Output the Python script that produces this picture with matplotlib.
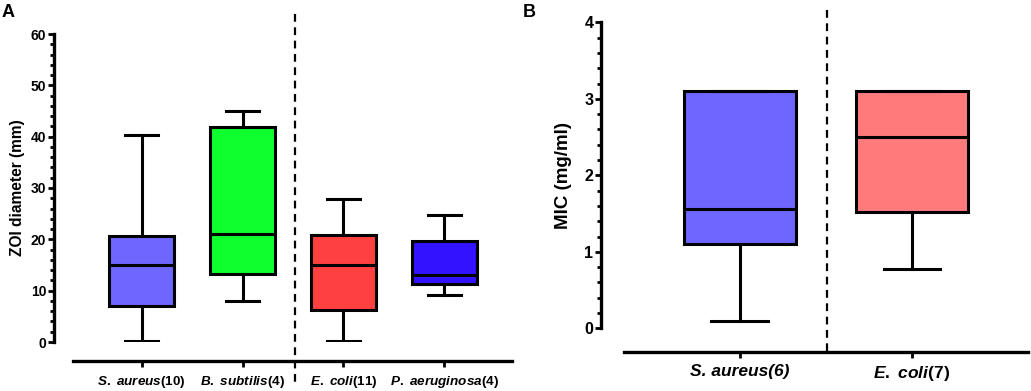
import matplotlib
matplotlib.use("Agg")
import matplotlib.pyplot as plt
from matplotlib.ticker import MultipleLocator

plt.rcParams['font.family'] = 'Liberation Sans'
plt.rcParams['font.weight'] = 'bold'
plt.rcParams['mathtext.fontset'] = 'custom'
plt.rcParams['mathtext.it'] = 'Liberation Sans:bold:italic'
plt.rcParams['mathtext.rm'] = 'Liberation Sans:bold'

# panel A: zone of inhibition (mm)
zoi_labels = [r"$\mathit{S.\ aureus}$(10)", r"$\mathit{B.\ subtilis}$(4)",
              r"$\mathit{E.\ coli}$(11)", r"$\mathit{P.\ aeruginosa}$(4)"]
zoi_min = [0.2, 8.0, 0.2, 9.1]
zoi_q1 = [7.0, 13.3, 6.3, 11.3]
zoi_med = [15.0, 21.0, 15.0, 13.0]
zoi_q3 = [20.7, 41.8, 20.8, 19.6]
zoi_max = [40.3, 45.0, 27.9, 24.7]
zoi_colors = ['#6E66FF', '#0DFF2E', '#FF4040', '#3212FF']

# panel B: MIC (mg/ml)
mic_labels = ["S. aureus(6)", r"$\mathit{E.\ coli}$(7)"]
mic_min = [0.1, 0.78]
mic_q1 = [1.10, 1.52]
mic_med = [1.56, 2.50]
mic_q3 = [3.10, 3.10]
mic_max = [3.10, 3.10]
mic_colors = ['#6E66FF', '#FF7A7A']

W, H = 1031, 391
fig = plt.figure(figsize=(W / 100, H / 100), dpi=100)


def px_axes(x0, y0, x1, y1):
    return fig.add_axes([x0 / W, 1 - y1 / H, (x1 - x0) / W, (y1 - y0) / H])


def draw_panel(ax, labels, lo, q1, med, q3, hi, colors, ymax, major, minor,
               left_out, bottom_out, tick_fs, label_fs, ylabel, label_x, div_x, div_top, div_bot):
    stats = []
    for i in range(len(labels)):
        stats.append(dict(whislo=lo[i], q1=q1[i], med=med[i], q3=q3[i], whishi=hi[i], fliers=[]))
    lw = 2.2
    bp = ax.bxp(stats, positions=range(len(labels)), widths=0.65, patch_artist=True,
                showfliers=False, capwidths=0.33,
                boxprops=dict(linewidth=lw, edgecolor='black'),
                medianprops=dict(linewidth=lw, color='black'),
                whiskerprops=dict(linewidth=lw, color='black'),
                capprops=dict(linewidth=lw, color='black'))
    for patch, c in zip(bp['boxes'], colors):
        patch.set_facecolor(c)

    ax.set_ylim(0, ymax)
    ax.yaxis.set_major_locator(MultipleLocator(major))
    ax.yaxis.set_minor_locator(MultipleLocator(minor))
    ax.tick_params(axis='y', labelsize=tick_fs[0], width=2, length=4.5, pad=1)
    ax.tick_params(axis='y', which='minor', width=2, length=3)
    ax.tick_params(axis='x', labelsize=tick_fs[1], width=2, length=4, pad=5)
    ax.set_xticks(range(len(labels)))
    ax.set_xticklabels(labels, fontsize=tick_fs[1], fontweight='bold')

    for s in ['top', 'right']:
        ax.spines[s].set_visible(False)
    ax.spines['left'].set_position(('outward', left_out))
    ax.spines['bottom'].set_position(('outward', bottom_out))
    ax.spines['left'].set_linewidth(2.4)
    ax.spines['bottom'].set_linewidth(2.4)

    ax.set_ylabel(ylabel, fontsize=label_fs, fontweight='bold')
    ax.yaxis.set_label_coords(label_x, 0.5)

    ax.plot([div_x, div_x], [div_top, div_bot], transform=ax.get_xaxis_transform(),
            color='black', linewidth=1.6, linestyle=(0, (3.5, 2.5)), clip_on=False)


axA = px_axes(73, 34, 512, 342)
axA.set_xlim(-0.68, 3.67)
draw_panel(axA, zoi_labels, zoi_min, zoi_q1, zoi_med, zoi_q3, zoi_max, zoi_colors,
           60, 10, 2, 13.7, 13.7, (10, 9.7), 11.2, "ZOI diameter (mm)", -0.109,
           1.52, 1.065, -0.133)

axB = px_axes(624, 22.3, 1028, 328.3)
axB.set_xlim(-0.671, 1.673)
draw_panel(axB, mic_labels, mic_min, mic_q1, mic_med, mic_q3, mic_max, mic_colors,
           4, 1, 0.2, 16.6, 16.8, (11.5, 12.5), 13.5, "MIC (mg/ml)", -0.129,
           0.508, 1.04, -0.076)
axB.get_xticklabels()[0].set_fontstyle('italic')

fig.text(2 / W, 1 - 4 / H, "A", fontsize=13, fontweight='bold', va='top', ha='left')
fig.text(523 / W, 1 - 4 / H, "B", fontsize=13, fontweight='bold', va='top', ha='left')

fig.savefig("out.png", dpi=100)
